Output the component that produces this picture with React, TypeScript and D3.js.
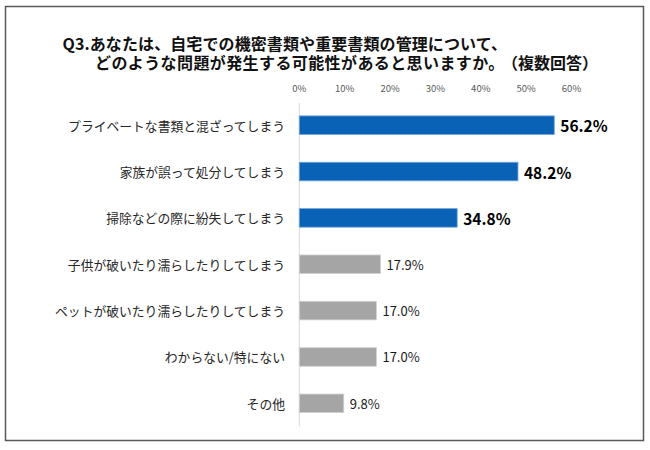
import React from "react";
import * as d3 from "d3";

const titleLine1 = "Q3.あなたは、自宅での機密書類や重要書類の管理について、";
const titleLine2Main = "どのような問題が発生する可能性があると思いますか。";
const titleLine2Note = "（複数回答）";
const categories = [
  "プライベートな書類と混ざってしまう",
  "家族が誤って処分してしまう",
  "掃除などの際に紛失してしまう",
  "子供が破いたり濡らしたりしてしまう",
  "ペットが破いたり濡らしたりしてしまう",
  "わからない/特にない",
  "その他",
];
const values = [56.2, 48.2, 34.8, 17.9, 17.0, 17.0, 9.8];
const highlighted = [true, true, true, false, false, false, false];
const tickValues = [0, 10, 20, 30, 40, 50, 60];

const W = 650;
const H = 450;
const FONT = "'Noto Sans CJK JP', 'Noto Sans', sans-serif";

export default function App() {
  const x = d3.scaleLinear().domain([0, 60]).range([299.3, 571.5]);
  const y = d3
    .scaleBand<string>()
    .domain(categories)
    .range([102, 426.5])
    .paddingInner(0.6)
    .paddingOuter(0.3);

  return (
    <div style={{ position: "absolute", left: 0, top: 0 }}>
      <svg width={W} height={H} style={{ display: "block", fontFamily: FONT }}>
        <rect x={0} y={0} width={W} height={H} fill="#ffffff" />
        <rect
          x={5.5}
          y={6.5}
          width={638}
          height={434}
          fill="#ffffff"
          stroke="#5a5a5a"
          strokeWidth={1.5}
        />
        <text
          x={62.5}
          y={42.5}
          dominantBaseline="central"
          fontSize={16}
          fontWeight="bold"
          fill="#111"
          letterSpacing={0.1}
        >
          {titleLine1}
        </text>
        <text
          x={95}
          y={62}
          dominantBaseline="central"
          fontSize={16}
          fontWeight="bold"
          fill="#111"
          letterSpacing={0.4}
        >
          {titleLine2Main}
        </text>
        <text
          x={598}
          y={62}
          textAnchor="end"
          dominantBaseline="central"
          fontSize={16}
          fontWeight="bold"
          fill="#111"
        >
          {titleLine2Note}
        </text>

        {tickValues.map((t) => (
          <text
            key={t}
            x={x(t)}
            y={88}
            textAnchor="middle"
            dominantBaseline="central"
            fontSize={9.5}
            fill="#595959"
          >
            {t}%
          </text>
        ))}

        <line
          x1={x(0)}
          x2={x(0)}
          y1={103}
          y2={426.5}
          stroke="#d9d9d9"
          strokeWidth={1}
        />

        {categories.map((c, i) => {
          const v = values[i];
          const by = y(c)!;
          const bh = y.bandwidth();
          const cy = by + bh / 2;
          const hi = highlighted[i];
          return (
            <g key={c}>
              <text
                x={285}
                y={cy}
                textAnchor="end"
                dominantBaseline="central"
                fontSize={12.8}
                fill="#262626"
              >
                {c}
              </text>
              <rect
                x={x(0)}
                y={by}
                width={x(v) - x(0)}
                height={bh}
                fill={hi ? "#0A62B6" : "#A5A5A5"}
                stroke={hi ? "#6fa3d8" : "#d0d0d0"}
                strokeWidth={0.8}
              />
              <text
                x={x(v) + 6}
                y={cy}
                dominantBaseline="central"
                fontSize={hi ? 15.5 : 13}
                fontWeight={hi ? "bold" : "normal"}
                fill={hi ? "#000" : "#1a1a1a"}
              >
                {v.toFixed(1)}%
              </text>
            </g>
          );
        })}
      </svg>
    </div>
  );
}
